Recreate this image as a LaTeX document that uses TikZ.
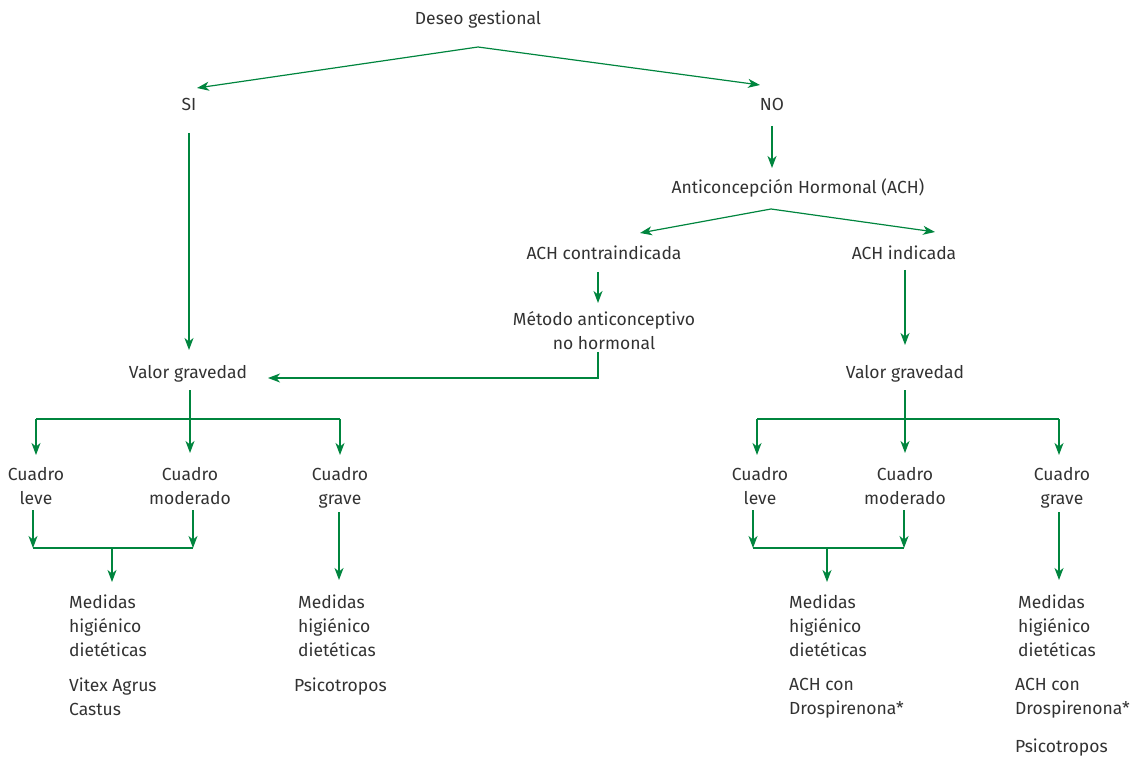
\documentclass[tikz,border=0pt]{standalone}
\usepackage{fontspec}
\setmainfont{Fira Sans}
\usetikzlibrary{arrows.meta,calc}
\definecolor{flowgreen}{RGB}{0,133,62}
\definecolor{txt}{RGB}{50,50,50}
\tikzset{
  lbl/.style={text=txt, inner sep=0pt, font=\fontsize{17.5}{24}\selectfont, align=center},
  lbll/.style={text=txt, inner sep=0pt, font=\fontsize{17.5}{24}\selectfont, align=left, anchor=north west},
  ln/.style={draw=flowgreen, line width=1.2pt},
  arr/.style={ln, -{Stealth[length=12pt,width=9pt,inset=3.5pt]}}
}
\begin{document}
\begin{tikzpicture}[x=1pt,y=-1pt]
\useasboundingbox (0,0) rectangle (1141,759);

% labels
\node[lbl] (deseo) at (478,20) {Deseo gestional};
\node[lbl] (si) at (189,104) {SI};
\node[lbl] (no) at (772,104) {NO};
\node[lbl] (ach) at (798,188) {Anticoncepción Hormonal (ACH)};
\node[lbl] (contra) at (604,253) {ACH contraindicada};
\node[lbl] (indic) at (904,253) {ACH indicada};
\node[lbl] (metodo) at (604,331) {Método anticonceptivo\\no hormonal};
\node[lbl] (valL) at (188,374) {Valor gravedad};
\node[lbl] (valR) at (905,374) {Valor gravedad};
\node[lbl] (leveL) at (36,486) {Cuadro\\leve};
\node[lbl] (modL) at (190,486) {Cuadro\\moderado};
\node[lbl] (graveL) at (340,488) {Cuadro\\grave};
\node[lbl] (leveR) at (760,486) {Cuadro\\leve};
\node[lbl] (modR) at (905,486) {Cuadro\\moderado};
\node[lbl] (graveR) at (1062,488) {Cuadro\\grave};

% treatments
\node[lbll] (medA) at (69,595) {Medidas\\higiénico\\dietéticas};
\node[lbll] (vitex) at (69,678) {Vitex Agrus\\Castus};
\node[lbll] (medB) at (298,595) {Medidas\\higiénico\\dietéticas};
\node[lbll] (psiB) at (294,678) {Psicotropos};
\node[lbll] (medC) at (789,595) {Medidas\\higiénico\\dietéticas};
\node[lbll] (achC) at (789,678) {ACH con\\Drospirenona*};
\node[lbll] (medD) at (1018,595) {Medidas\\higiénico\\dietéticas};
\node[lbll] (achD) at (1015,678) {ACH con\\Drospirenona*};
\node[lbll] (psiD) at (1015,739) {Psicotropos};

% junction points
\coordinate (j0) at (478,47);
\coordinate (j1) at (771,209);
\coordinate (jm) at (598,378);
\coordinate (bL) at (190,419);
\coordinate (bR) at (905,419);
\coordinate (kL) at (33,548);
\coordinate (kLm) at (193,548);
\coordinate (mL) at (112,548);
\coordinate (kR) at (753,548);
\coordinate (kRm) at (904,548);
\coordinate (mR) at (827,548);

% connectors
\draw[arr] (j0) -- ($(si)+(8,-16)$);
\draw[arr] (j0) -- ($(no)+(-12,-19)$);
\draw[arr] ($(no)+(0,22)$) -- ($(ach)+(-26,-20)$);
\draw[arr] (j1) -- ($(contra)+(36,-20)$);
\draw[arr] (j1) -- ($(indic)+(31,-21)$);
\draw[arr] ($(contra)+(-6,19)$) -- ($(metodo)+(-6,-28)$);
\draw[arr] ($(metodo)+(-6,21)$) -- (jm) -- ($(valL)+(80,4)$);
\draw[arr] ($(si)+(0,29)$) -- ($(valL)+(1,-24)$);
\draw[arr] ($(indic)+(1,17)$) -- ($(valR)+(0,-29)$);

% left severity branch
\draw[arr] ($(valL)+(2,16)$) -- ($(modL)+(0,-33)$);
\draw[ln] (bL -| leveL) -- (bL -| graveL);
\draw[arr] (bL -| leveL) -- ($(leveL)+(0,-31)$);
\draw[arr] (bL -| graveL) -- ($(graveL)+(0,-33)$);
\draw[arr] ($(leveL)+(-3,24)$) -- (kL);
\draw[arr] ($(modL)+(3,24)$) -- (kLm);
\draw[ln] (kL) -- (kLm);
\draw[arr, shorten >=13pt] (mL) -- (mL |- medA.north);
\draw[arr] ($(graveL)+(-1,24)$) -- ($(graveL)+(-1,92)$);

% right severity branch
\draw[arr] ($(valR)+(0,16)$) -- ($(modR)+(0,-33)$);
\draw[ln] ($(bR -| leveR)+(-3,0)$) -- ($(bR -| graveR)+(-3,0)$);
\draw[arr] ($(bR -| leveR)+(-3,0)$) -- ($(leveR)+(-3,-31)$);
\draw[arr] ($(bR -| graveR)+(-3,0)$) -- ($(graveR)+(-3,-33)$);
\draw[arr] ($(leveR)+(-7,24)$) -- (kR);
\draw[arr] ($(modR)+(-1,24)$) -- (kRm);
\draw[ln] (kR) -- (kRm);
\draw[arr, shorten >=13pt] (mR) -- (mR |- medC.north);
\draw[arr] ($(graveR)+(-3,24)$) -- ($(graveR)+(-3,92)$);
\end{tikzpicture}
\end{document}
